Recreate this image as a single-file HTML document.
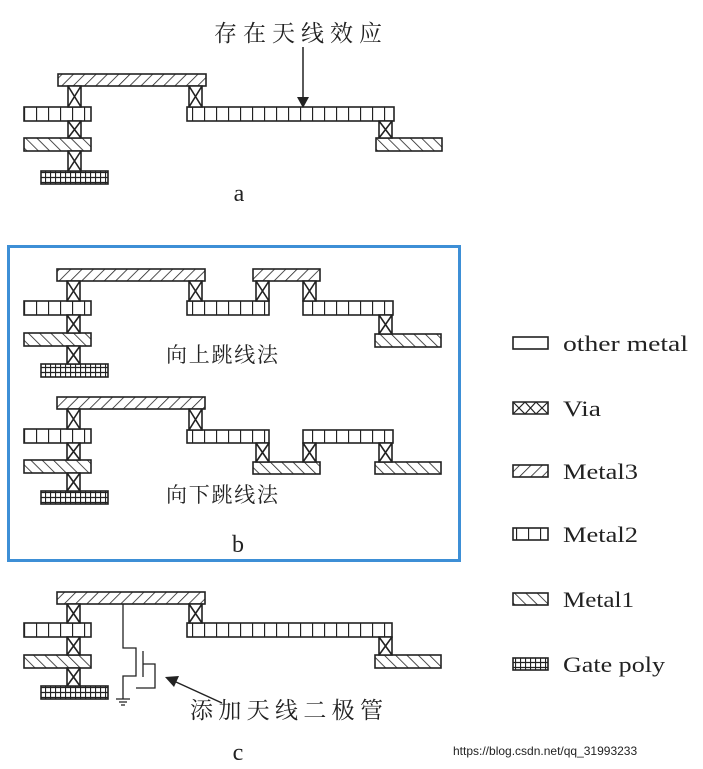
<!DOCTYPE html>
<html><head><meta charset="utf-8"><style>
body{margin:0;background:#fff;}
svg{display:block}
text{font-family:"Liberation Serif","Noto Serif CJK SC",serif;fill:#222}
</style></head><body>
<svg width="703" height="769" viewBox="0 0 703 769" xmlns="http://www.w3.org/2000/svg">
<defs>
<pattern id="m3" width="8" height="8" patternUnits="userSpaceOnUse" patternTransform="rotate(45)"><rect width="8" height="8" fill="#fff"/><line x1="0" y1="0" x2="0" y2="8" stroke="#222" stroke-width="1.6"/></pattern>
<pattern id="m1" width="8" height="8" patternUnits="userSpaceOnUse" patternTransform="rotate(-45)"><rect width="8" height="8" fill="#fff"/><line x1="0" y1="0" x2="0" y2="8" stroke="#222" stroke-width="1.6"/></pattern>
<pattern id="m2" width="12" height="20" patternUnits="userSpaceOnUse"><rect width="12" height="20" fill="#fff"/><line x1="0.5" y1="0" x2="0.5" y2="20" stroke="#222" stroke-width="1.3"/></pattern>
<pattern id="gp" width="5" height="5" patternUnits="userSpaceOnUse"><rect width="5" height="5" fill="#fff"/><path d="M0.5 0V5M0 2.5H5" stroke="#222" stroke-width="1.2"/></pattern>
</defs>
<g stroke="#222" stroke-width="1.6">
<rect x="58" y="74" width="148" height="12" fill="url(#m3)"/>
<rect x="24" y="107" width="67" height="14" fill="url(#m2)"/>
<rect x="24" y="138" width="67" height="13" fill="url(#m1)"/>
<rect x="41" y="171" width="67" height="13" fill="url(#gp)"/>
<rect x="187" y="107" width="207" height="14" fill="url(#m2)"/>
<rect x="376" y="138" width="66" height="13" fill="url(#m1)"/>
<g fill="#fff">
<path d="M68 86h13v21h-13zM68 86l13 21M81 86l-13 21"/>
<path d="M68 121h13v17h-13zM68 121l13 17M81 121l-13 17"/>
<path d="M68 151h13v20h-13zM68 151l13 20M81 151l-13 20"/>
<path d="M189 86h13v21h-13zM189 86l13 21M202 86l-13 21"/>
<path d="M379 121h13v17h-13zM379 121l13 17M392 121l-13 17"/>
</g>

<rect x="57" y="269" width="148" height="12" fill="url(#m3)"/>
<rect x="24" y="301" width="67" height="14" fill="url(#m2)"/>
<rect x="24" y="333" width="67" height="13" fill="url(#m1)"/>
<rect x="41" y="364" width="67" height="13" fill="url(#gp)"/>
<rect x="187" y="301" width="82" height="14" fill="url(#m2)"/>
<rect x="253" y="269" width="67" height="12" fill="url(#m3)"/>
<rect x="303" y="301" width="90" height="14" fill="url(#m2)"/>
<rect x="375" y="334" width="66" height="13" fill="url(#m1)"/>
<g fill="#fff">
<path d="M67 281h13v20h-13zM67 281l13 20M80 281l-13 20"/>
<path d="M67 315h13v18h-13zM67 315l13 18M80 315l-13 18"/>
<path d="M67 346h13v18h-13zM67 346l13 18M80 346l-13 18"/>
<path d="M189 281h13v20h-13zM189 281l13 20M202 281l-13 20"/>
<path d="M256 281h13v20h-13zM256 281l13 20M269 281l-13 20"/>
<path d="M303 281h13v20h-13zM303 281l13 20M316 281l-13 20"/>
<path d="M379 315h13v19h-13zM379 315l13 19M392 315l-13 19"/>
</g>

<rect x="57" y="397" width="148" height="12" fill="url(#m3)"/>
<rect x="24" y="429" width="67" height="14" fill="url(#m2)"/>
<rect x="24" y="460" width="67" height="13" fill="url(#m1)"/>
<rect x="41" y="491" width="67" height="13" fill="url(#gp)"/>
<rect x="187" y="430" width="82" height="13" fill="url(#m2)"/>
<rect x="253" y="462" width="67" height="12" fill="url(#m1)"/>
<rect x="303" y="430" width="90" height="13" fill="url(#m2)"/>
<rect x="375" y="462" width="66" height="12" fill="url(#m1)"/>
<g fill="#fff">
<path d="M67 409h13v20h-13zM67 409l13 20M80 409l-13 20"/>
<path d="M67 443h13v17h-13zM67 443l13 17M80 443l-13 17"/>
<path d="M67 473h13v18h-13zM67 473l13 18M80 473l-13 18"/>
<path d="M189 409h13v21h-13zM189 409l13 21M202 409l-13 21"/>
<path d="M256 443h13v19h-13zM256 443l13 19M269 443l-13 19"/>
<path d="M303 443h13v19h-13zM303 443l13 19M316 443l-13 19"/>
<path d="M379 443h13v19h-13zM379 443l13 19M392 443l-13 19"/>
</g>

<rect x="57" y="592" width="148" height="12" fill="url(#m3)"/>
<rect x="24" y="623" width="67" height="14" fill="url(#m2)"/>
<rect x="24" y="655" width="67" height="13" fill="url(#m1)"/>
<rect x="41" y="686" width="67" height="13" fill="url(#gp)"/>
<rect x="187" y="623" width="205" height="14" fill="url(#m2)"/>
<rect x="375" y="655" width="66" height="13" fill="url(#m1)"/>
<g fill="#fff">
<path d="M67 604h13v19h-13zM67 604l13 19M80 604l-13 19"/>
<path d="M67 637h13v18h-13zM67 637l13 18M80 637l-13 18"/>
<path d="M67 668h13v18h-13zM67 668l13 18M80 668l-13 18"/>
<path d="M189 604h13v19h-13zM189 604l13 19M202 604l-13 19"/>
<path d="M379 637h13v18h-13zM379 637l13 18M392 637l-13 18"/>
</g>
<g fill="none" stroke-width="1.3">
<path d="M123 604V648H136V676H123V699"/>
<path d="M143 651V677"/>
<path d="M143 664H155V688H136"/>
<path d="M116 699H130M119 702H127M121 705H125"/>
</g>
<line x1="303" y1="47" x2="303" y2="100" stroke-width="1.5"/>
<line x1="222" y1="703" x2="176" y2="682" stroke-width="1.5"/>
</g>
<path d="M297 97L309 97L303 108Z" fill="#222"/>
<path d="M165 677L179 676L174 687Z" fill="#222"/>

<rect x="8.5" y="246.5" width="451" height="314" fill="none" stroke="#3d8fd6" stroke-width="3"/>

<text x="214" y="41" font-size="23" textLength="168" lengthAdjust="spacing">存在天线效应</text>
<text x="239" y="201" font-size="24" text-anchor="middle">a</text>
<text x="166" y="362" font-size="21" textLength="112" lengthAdjust="spacing">向上跳线法</text>
<text x="166" y="502" font-size="21" textLength="112" lengthAdjust="spacing">向下跳线法</text>
<text x="238" y="552" font-size="24" text-anchor="middle">b</text>
<text x="190" y="718" font-size="23" textLength="193" lengthAdjust="spacing">添加天线二极管</text>
<text x="238" y="760" font-size="24" text-anchor="middle">c</text>

<g stroke="#222" stroke-width="1.6">
<rect x="513" y="337" width="35" height="12" fill="#fff"/>
<path d="M513 402h35v12h-35z" fill="#fff"/>
<rect x="513" y="465" width="35" height="12" fill="url(#m3)"/>
<rect x="513" y="528" width="35" height="12" fill="url(#m2)"/>
<rect x="513" y="593" width="35" height="12" fill="url(#m1)"/>
<rect x="513" y="658" width="35" height="12" fill="url(#gp)"/>
</g>
<g stroke="#222" stroke-width="1.2" fill="none">
<path d="M513 402l12 12M525 402l-12 12M525 402l11 12M536 402l-11 12M536 402l12 12M548 402l-12 12"/>
</g>
<g font-size="22">
<text x="563" y="351" textLength="125" lengthAdjust="spacingAndGlyphs">other metal</text>
<text x="563" y="416" textLength="38" lengthAdjust="spacingAndGlyphs">Via</text>
<text x="563" y="479" textLength="75" lengthAdjust="spacingAndGlyphs">Metal3</text>
<text x="563" y="542" textLength="75" lengthAdjust="spacingAndGlyphs">Metal2</text>
<text x="563" y="607" textLength="71" lengthAdjust="spacingAndGlyphs">Metal1</text>
<text x="563" y="672" textLength="102" lengthAdjust="spacingAndGlyphs">Gate poly</text>
</g>
<text x="453" y="755" font-size="12" style="font-family:'Liberation Sans',sans-serif" fill="#c8c8c8">https://blog.csdn.net/qq_31993233</text>
</svg>
</body></html>
